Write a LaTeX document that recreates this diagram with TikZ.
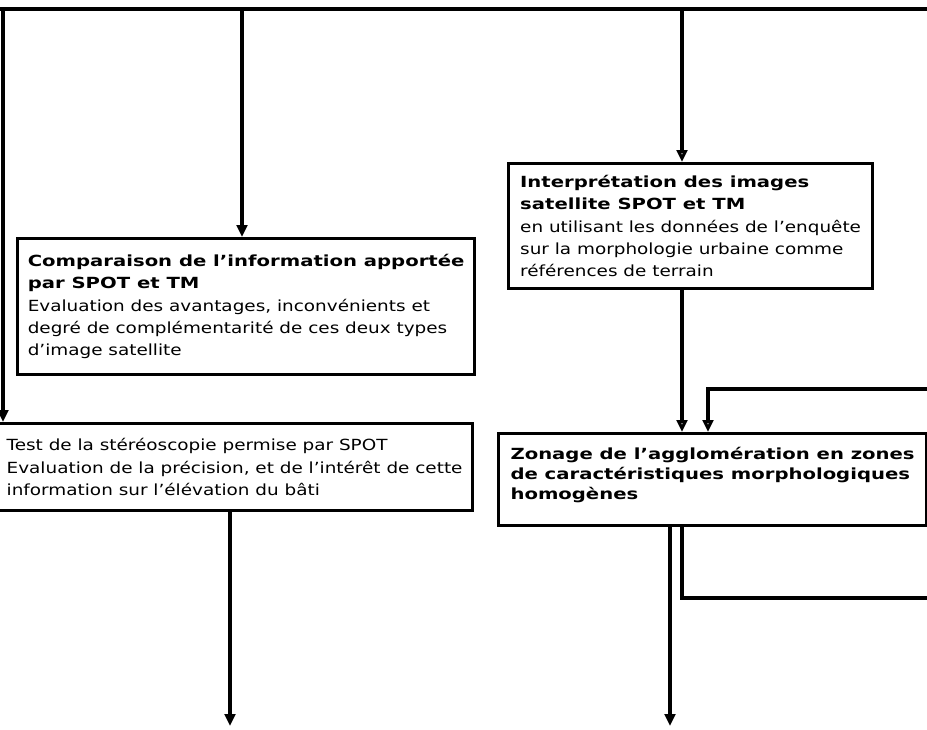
\documentclass[tikz,border=0pt]{standalone}
\usepackage{fontspec}
\setmainfont{DejaVu Sans}[FakeStretch=1.2,BoldFeatures={FakeStretch=1.28}]
\usetikzlibrary{arrows.meta,positioning}
\begin{document}
\begin{tikzpicture}[x=0.75pt,y=-0.75pt,line width=2.5pt,
  font=\fontsize{11.5}{16.8}\selectfont,
  >={Triangle[width=8pt,length=9pt]},
  bx/.style 2 args={draw,line width=2.4pt,align=left,anchor=north west,
    inner sep=0pt,minimum width=#1,minimum height=#2},
  hol/.style={-{Triangle[open,width=8pt,length=9pt]}}]
  \useasboundingbox (0,0) rectangle (927,729);
  \clip (0,0) rectangle (927,729);
  \node[bx={342.75pt}{102pt}] (cmp) at (16,237)
    {\textbf{Comparaison de l'information apportée}\\
     \textbf{par SPOT et TM}\\
     Evaluation des avantages, inconvénients et\\
     degré de complémentarité de ces deux types\\
     d'image satellite};
  \node[bx={273pt}{93.75pt}] (interp) at (507,162)
    {\textbf{Interprétation des images}\\
     \textbf{satellite SPOT et TM}\\
     en utilisant les données de l'enquête\\
     sur la morphologie urbaine comme\\
     références de terrain};
  \node[bx={321pt}{69pt},font=\fontsize{11.5}{15}\selectfont\bfseries] (zon) at (497,432)
    {Zonage de l'agglomération en zones\\
     de caractéristiques morphologiques\\
     homogènes\\[-6pt]};
  \node[bx={357pt}{65.25pt}] (stereo) at (-5,422)
    {Test de la stéréoscopie permise par SPOT\\
     Evaluation de la précision, et de l'intérêt de cette\\
     information sur l'élévation du bâti};
  \coordinate (bl) at (0,9);
  \coordinate (br) at (927,9);
  \coordinate (t0) at (3,9);
  \coordinate (t1) at (242,9);
  \coordinate (t2) at (682,9);
  \coordinate (lp) at (940,598);
  \coordinate (fb) at (708,389);
  \coordinate (e1) at (230,726);
  \coordinate (e2) at (670,726);
  \draw[line width=3pt] (bl) -- (br);
  \draw[->] (t0) -- (t0 |- stereo.north);
  \draw[->] (t1) -- (t1 |- cmp.north);
  \draw[hol] (t2) -- (t2 |- interp.north);
  \draw[hol] (t2 |- interp.south) -- (t2 |- zon.north);
  \draw[hol] (t2 |- zon.south) |- (lp) |- (fb) -- (fb |- zon.north);
  \draw[->] (e2 |- zon.south) -- (e2);
  \draw[->] (e1 |- stereo.south) -- (e1);
\end{tikzpicture}
\end{document}
